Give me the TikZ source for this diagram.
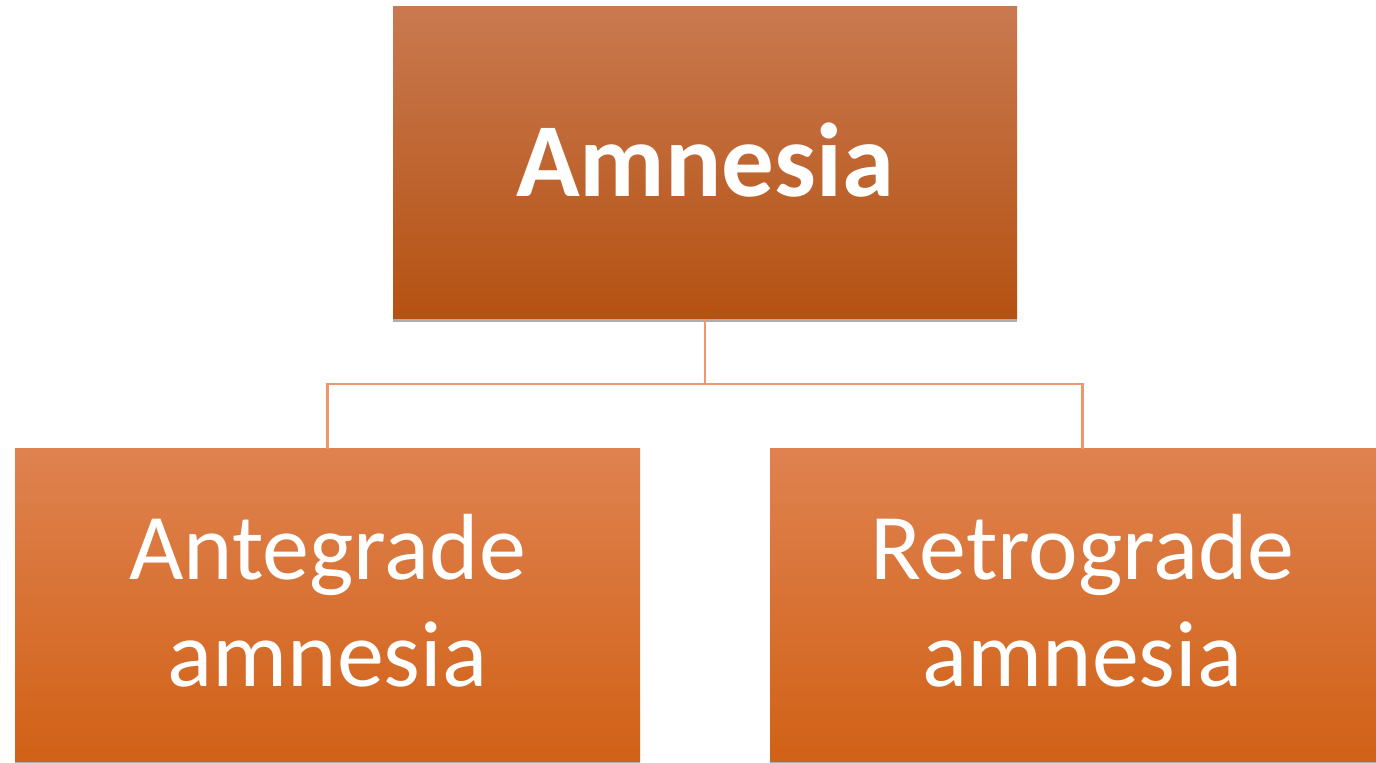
\documentclass[tikz,border=0pt]{standalone}
\usepackage{fontspec}
\setmainfont{Carlito}
\usetikzlibrary{shadows}
\definecolor{topA}{RGB}{201,121,80}
\definecolor{topB}{RGB}{181,82,18}
\definecolor{botA}{RGB}{223,130,80}
\definecolor{botB}{RGB}{209,97,22}
\definecolor{conn}{RGB}{240,150,110}
\tikzset{
  box/.style={draw=none, inner sep=0pt, align=center, text=white,
    drop shadow={shadow xshift=0pt, shadow yshift=-1.5pt, opacity=0.45, fill=black!70}},
  topbox/.style={box, top color=topA, bottom color=topB,
    minimum width=312pt, minimum height=156pt,
    font=\fontsize{52.5pt}{58pt}\selectfont\bfseries},
  botbox/.style={box, top color=botA, bottom color=botB,
    minimum width=312.5pt, minimum height=156.5pt,
    font=\fontsize{47pt}{53.8pt}\selectfont},
  link/.style={draw=conn, line width=1.2pt}
}
\begin{document}
\begin{tikzpicture}[x=0.5pt,y=-0.5pt]
\useasboundingbox (0,0) rectangle (1376,763);
\fill[white] (0,0) rectangle (1376,763);
\node[topbox] (amn) at (705,163) {\raisebox{1.5pt}[\height][\depth]{Amnesia}};
\node[botbox] (ante) at (327.5,605.5) {\raisebox{-3pt}[\height][\depth]{\begin{tabular}{@{}c@{}}Antegrade\\amnesia\end{tabular}}};
\node[botbox] (retro) at (1082.5,605.5) {\raisebox{-3pt}[\height][\depth]{\begin{tabular}{@{}c@{}}Retrograde\\amnesia\end{tabular}}};
\coordinate (mid) at (705,384);
\draw[link] (amn.south) -- (mid) -| (retro.north);
\draw[link] (mid) -| (ante.north);
\end{tikzpicture}
\end{document}
